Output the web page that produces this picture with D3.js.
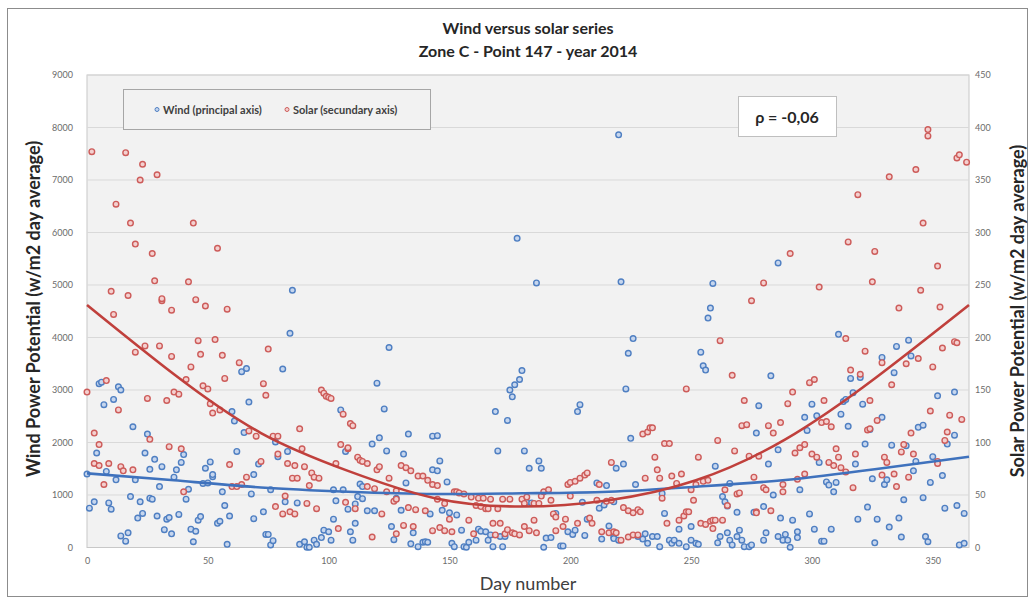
<!DOCTYPE html>
<html>
<head>
<meta charset="utf-8">
<script src="https://cdn.jsdelivr.net/npm/d3@7"></script>
<style>
body { margin: 0; background: #fff; }
text { font-family: Lato, "Open Sans", sans-serif; }
</style>
</head>
<body>
<div id="chart"></div>
<script>
const width = 1033;
const height = 601;

const title = "Wind versus solar series";
const subTitle = "Zone C - Point 147 - year 2014";
const rhoText = "\u03C1 = -0,06";

const dayTicks = [0, 50, 100, 150, 200, 250, 300, 350];
const windTicks = [0, 1000, 2000, 3000, 4000, 5000, 6000, 7000, 8000, 9000];
const solarTicks = [0, 50, 100, 150, 200, 250, 300, 350, 400, 450];

// [day, w/m2]
const wind = [
 [0,1400],[1,750],[3,870],[4,1800],[5,3120],[6,3150],[7,2720],[8,1450],[9,850],[10,730],[11,2820],[12,1290],[13,3060],[14,3000],[14,220],[16,120],[17,280],[18,970],[19,2300],[20,1290],[21,560],[22,870],[23,650],[24,1800],[25,2160],[26,1490],[26,940],[27,920],[28,1680],[29,600],[30,1160],[31,1540],[32,340],[33,540],[34,570],[35,260],[36,1340],[37,1480],[38,630],[39,1620],[40,1770],[41,920],[42,1110],[43,350],[44,110],[45,310],[46,520],[47,590],[48,1220],[49,1510],[50,1230],[51,1630],[52,1350],[52,1390],[54,460],[55,500],[56,1060],[57,800],[58,60],[59,600],[60,2590],[61,2410],[62,1830],[64,3350],[65,2190],[66,3410],[67,2770],[68,1020],[69,550],[69,1390],[71,1590],
 [73,680],[74,250],[75,250],[76,1100],[76,50],[77,130],[78,2010],[79,1730],[81,3400],[82,870],[83,1830],[84,4080],[85,4900],[87,850],[88,60],[90,110],[91,5],[92,5],[94,140],[95,60],[97,190],[98,330],[100,300],[101,140],[102,1100],[102,540],[103,890],[105,2620],[106,1100],[107,1830],[108,730],[109,300],[110,140],[111,830],[111,460],[112,970],[113,1210],[114,1160],[114,930],[116,700],[118,1970],[119,700],[120,3130],[121,2090],[123,2640],[124,1840],[125,3810],[126,400],[127,150],[128,940],[130,710],[131,1780],[132,1230],[133,2160],[134,70],[135,280],[137,15],[139,100],[140,110],[141,100],[142,640],[143,2120],[143,1480],
 [145,2130],[145,1460],[146,1650],[147,710],[149,1250],[150,660],[151,80],[152,15],[153,620],[155,330],[156,15],[157,5],[158,100],[161,140],[162,350],[163,310],[165,300],[166,140],[167,240],[168,15],[169,2590],[170,1840],[171,210],[172,15],[173,210],[174,2420],[175,3000],[176,2870],[177,3100],[178,5890],[179,3200],[180,3370],[181,1840],[182,860],[183,1510],[184,850],[186,5040],[187,1650],[188,1510],[189,5],[190,180],[192,190],[194,650],[196,30],[197,30],[199,300],[201,250],[202,330],[203,2590],[204,2720],[205,860],[206,230],[207,540],[211,1230],[212,750],[213,160],[214,810],[215,1180],[216,410],
 [218,870],[218,200],[218,170],[219,1510],[220,7860],[220,140],[221,5060],[222,1590],[223,3020],[224,3700],[225,2080],[226,3980],[227,1200],[228,210],[230,160],[231,260],[232,80],[234,210],[236,210],[237,15],[238,1030],[239,650],[241,140],[242,80],[243,140],[245,350],[245,80],[248,15],[250,140],[250,400],[252,80],[253,60],[254,3720],[255,3460],[256,3380],[257,4370],[258,4560],[259,5030],[260,1550],[261,90],[262,210],[263,970],[264,870],[265,790],[265,280],[266,1220],[266,140],[267,50],[269,670],[269,210],[270,330],[271,140],[272,15],[274,15],[275,50],[276,670],[277,2180],[278,2700],[280,780],[280,140],[281,280],[282,1590],[283,3270],[284,1000],[286,5420],[286,1860],[286,210],[287,560],[288,140],
 [289,250],[290,140],[291,5],[292,520],[294,190],[294,300],[295,1100],[297,2480],[298,2230],[299,640],[300,2730],[301,350],[302,2510],[303,1620],[304,120],[305,120],[306,1250],[307,1190],[308,350],[309,1060],[310,1240],[311,4060],[312,2540],[313,2780],[314,2820],[315,2310],[316,3220],[317,2950],[318,1590],[319,540],[320,3240],[321,2730],[322,1970],[323,770],[324,2250],[325,1310],[326,90],[327,540],[329,3620],[329,2480],[330,1200],[331,1290],[332,390],[333,1950],[334,3330],[335,3830],[336,560],[337,200],[338,910],[339,1940],[340,3950],[341,3650],[342,1460],[343,1640],[344,2290],[346,2330],[346,950],[347,210],[348,110],[349,1240],[350,1730],[352,2890],[354,1370],[355,750],[356,1970],[359,2960],[359,2140],[360,800],[361,50],[363,650],[363,80]
];

const solar = [
 [0,148],[2,377],[3,109],[3,80],[5,78],[5,98],[7,60],[8,159],[9,80],[10,244],[11,222],[12,327],[13,131],[14,77],[15,73],[16,376],[17,240],[18,309],[19,74],[20,186],[20,289],[22,350],[23,365],[24,192],[25,142],[26,103],[27,280],[28,254],[29,355],[30,192],[31,235],[31,237],[33,140],[34,96],[35,182],[35,226],[36,148],[38,146],[39,94],[40,53],[41,160],[42,253],[43,172],[44,309],[45,236],[46,197],[47,184],[48,154],[49,230],[50,151],[51,137],[52,128],[53,198],[54,285],[55,131],[56,183],[57,161],[58,227],[59,79],[60,58],[62,58],[63,176],[64,60],[66,67],[67,111],[70,106],
 [72,82],[73,156],[74,145],[75,189],[77,106],[78,39],[79,106],[79,89],[81,32],[82,49],[83,80],[84,34],[85,66],[86,78],[86,32],[87,66],[88,113],[89,94],[90,77],[91,42],[92,59],[93,71],[94,67],[95,37],[96,66],[97,150],[98,147],[99,144],[100,143],[101,142],[103,80],[104,18],[105,98],[106,127],[107,43],[108,94],[108,95],[109,118],[110,116],[111,37],[112,86],[113,83],[114,82],[116,80],[116,58],[118,10],[119,56],[120,74],[121,77],[122,32],[124,53],[125,66],[127,44],[128,13],[128,46],[128,54],[130,78],[131,21],[132,76],[133,38],[134,73],[135,20],[136,36],[137,68],[139,68],[140,35],[141,64],[143,60],[143,16],
 [145,59],[145,46],[146,19],[148,16],[148,42],[150,27],[151,15],[152,53],[153,53],[154,52],[156,51],[158,26],[159,48],[160,13],[161,40],[162,47],[163,39],[164,47],[165,37],[166,37],[167,46],[168,23],[169,12],[170,37],[171,23],[172,46],[173,13],[174,17],[175,46],[176,14],[177,13],[179,12],[180,46],[181,20],[181,42],[182,48],[183,16],[185,42],[185,26],[186,14],[187,42],[188,49],[189,53],[191,55],[192,45],[193,32],[194,29],[194,16],[197,20],[198,27],[199,60],[200,62],[200,49],[202,63],[203,23],[204,66],[206,69],[207,71],[208,28],[209,23],[211,45],[212,60],[213,15],[215,44],[216,14],[217,81],
 [217,45],[218,15],[219,14],[221,7],[222,38],[224,35],[224,10],[226,33],[226,12],[228,36],[228,12],[229,34],[230,108],[231,66],[232,110],[233,114],[234,114],[235,86],[236,74],[237,66],[238,47],[239,99],[240,23],[241,99],[242,68],[244,61],[245,26],[246,70],[247,30],[248,34],[248,151],[249,34],[250,55],[251,45],[252,60],[253,86],[254,23],[255,63],[256,22],[257,64],[258,25],[259,26],[259,18],[260,26],[261,102],[262,197],[263,26],[264,55],[265,40],[267,164],[268,92],[269,51],[270,52],[271,116],[272,140],[273,117],[274,87],[275,235],[276,67],[277,34],[277,33],[278,87],[280,57],[280,252],[281,55],[282,116],[283,35],[284,109],[287,119],[288,60],[288,53],
 [290,137],[291,280],[292,148],[293,90],[294,65],[295,95],[297,98],[297,70],[299,157],[300,89],[301,160],[302,86],[303,248],[304,119],[305,140],[306,120],[307,81],[308,115],[309,78],[310,94],[311,86],[312,76],[314,72],[314,199],[315,291],[316,169],[317,57],[318,89],[319,336],[320,165],[322,187],[323,112],[324,140],[324,113],[325,253],[326,282],[327,121],[329,176],[329,69],[330,86],[331,81],[332,353],[333,155],[334,70],[335,58],[336,228],[337,91],[338,98],[339,175],[340,67],[341,109],[342,89],[343,360],[344,180],[345,245],[346,309],[348,392],[348,398],[349,130],[350,172],[352,82],[352,80],[352,268],[353,229],[354,190],[355,102],[356,110],[357,126],[359,196],[360,195],[360,371],[361,374],[362,122],[364,367]
];

// trend curves
const windTrend = [[0,1413],[36,1280],[72,1143],[108,1063],[144,1019],[180,1032],[216,1063],[252,1158],[289,1286],[326,1490],[365,1730]];
const solarTrend = [[0,231],[36,165],[72,109],[108,73],[144,47],[180,39],[216,45],[252,64],[289,103],[326,161],[365,231]];

const plot = {left: 87, right: 969, top: 75, bottom: 547.5};

const svg = d3.select("#chart").append("svg")
   .attr("width", width)
   .attr("height", height);

// chart frame
svg.append("rect")
   .attr("x", 7.5).attr("y", 8.5)
   .attr("width", 1020).attr("height", 588)
   .attr("fill", "#fff")
   .attr("stroke", "#8c8c8c");

const x = d3.scaleLinear().domain([0, 365]).range([plot.left, plot.right]);
const yWind = d3.scaleLinear().domain([0, 9000]).range([plot.bottom, plot.top]);
const ySolar = d3.scaleLinear().domain([0, 450]).range([plot.bottom, plot.top]);

svg.append("rect")
   .attr("x", plot.left).attr("y", plot.top)
   .attr("width", plot.right - plot.left)
   .attr("height", plot.bottom - plot.top)
   .attr("fill", "#f2f2f2")
   .attr("stroke", "#c8c8c8");

svg.append("g")
   .selectAll("line")
   .data(windTicks.slice(1))
   .join("line")
   .attr("x1", plot.left).attr("x2", plot.right)
   .attr("y1", d => yWind(d)).attr("y2", d => yWind(d))
   .attr("stroke", "#d9d9d9")
   .attr("stroke-width", 1);

function styleAxis(g) {
   g.select(".domain").remove();
   g.selectAll("text")
      .style("font-size", "9px")
      .style("fill", "#6b6b6b")
      .style("font-family", "Lato, sans-serif");
}

svg.append("g")
   .attr("transform", `translate(${plot.left},0)`)
   .call(d3.axisLeft(yWind).tickValues(windTicks).tickSize(0).tickPadding(14).tickFormat(d3.format("d")))
   .call(styleAxis);

svg.append("g")
   .attr("transform", `translate(${plot.right},0)`)
   .call(d3.axisRight(ySolar).tickValues(solarTicks).tickSize(0).tickPadding(6).tickFormat(d3.format("d")))
   .call(styleAxis);

svg.append("g")
   .attr("transform", `translate(0,${plot.bottom})`)
   .call(d3.axisBottom(x).tickValues(dayTicks).tickSize(0).tickPadding(10).tickFormat(d3.format("d")))
   .call(styleAxis);

// points
svg.append("g")
   .selectAll("circle")
   .data(wind)
   .join("circle")
   .attr("cx", d => x(d[0]))
   .attr("cy", d => yWind(d[1]))
   .attr("r", 2.8)
   .attr("fill", "#c6d6ee")
   .attr("stroke", "#4f7fc2")
   .attr("stroke-width", 1.4);

svg.append("g")
   .selectAll("circle")
   .data(solar)
   .join("circle")
   .attr("cx", d => x(d[0]))
   .attr("cy", d => ySolar(d[1]))
   .attr("r", 2.8)
   .attr("fill", "#f4d0cf")
   .attr("stroke", "#cd5c5a")
   .attr("stroke-width", 1.4);

// trend lines
svg.append("path")
   .datum(windTrend)
   .attr("fill", "none")
   .attr("stroke", "#3f72bd")
   .attr("stroke-width", 2.6)
   .attr("d", d3.line().x(d => x(d[0])).y(d => yWind(d[1])).curve(d3.curveNatural));

svg.append("path")
   .datum(solarTrend)
   .attr("fill", "none")
   .attr("stroke", "#c0403c")
   .attr("stroke-width", 2.6)
   .attr("d", d3.line().x(d => x(d[0])).y(d => ySolar(d[1])).curve(d3.curveNatural));

// titles
svg.append("text")
   .attr("x", 528).attr("y", 34)
   .attr("text-anchor", "middle")
   .style("font-size", "16px").style("font-weight", "bold").style("fill", "#262626")
   .text(title);

svg.append("text")
   .attr("x", 528).attr("y", 57)
   .attr("text-anchor", "middle")
   .style("font-size", "16px").style("font-weight", "bold").style("fill", "#262626")
   .text(subTitle);

svg.append("text")
   .attr("x", 528).attr("y", 590)
   .attr("text-anchor", "middle")
   .style("font-size", "18px").style("fill", "#404040")
   .text("Day number");

svg.append("text")
   .attr("transform", "translate(40,309) rotate(-90)")
   .attr("text-anchor", "middle")
   .style("font-size", "18px").style("font-weight", "bold").style("fill", "#262626")
   .text("Wind Power Potential (w/m2 day average)");

svg.append("text")
   .attr("transform", "translate(1024,311) rotate(-90)")
   .attr("text-anchor", "middle")
   .style("font-size", "18px").style("font-weight", "bold").style("fill", "#262626")
   .text("Solar Power Potential (w/m2 day average)");

// legend
const legend = svg.append("g");
legend.append("rect")
   .attr("x", 123.5).attr("y", 89.5)
   .attr("width", 307).attr("height", 40)
   .attr("fill", "#f2f2f2")
   .attr("stroke", "#a6a6a6");

const legendItems = [
   {label: "Wind (principal axis)", x: 157, fill: "#c6d6ee", stroke: "#4f7fc2"},
   {label: "Solar (secundary axis)", x: 287, fill: "#f4d0cf", stroke: "#cd5c5a"}
];

legendItems.forEach(d => {
   legend.append("circle")
      .attr("cx", d.x).attr("cy", 109.5).attr("r", 2)
      .attr("fill", d.fill).attr("stroke", d.stroke).attr("stroke-width", 1);
   legend.append("text")
      .attr("x", d.x + 6).attr("y", 113.5)
      .style("font-size", "11px").style("font-weight", "bold").style("fill", "#404040")
      .text(d.label);
});

// correlation box
svg.append("rect")
   .attr("x", 738.5).attr("y", 96.5)
   .attr("width", 98).attr("height", 40)
   .attr("fill", "#fff")
   .attr("stroke", "#bfbfbf");

svg.append("text")
   .attr("x", 787).attr("y", 123)
   .attr("text-anchor", "middle")
   .style("font-size", "16px").style("font-weight", "bold").style("fill", "#262626")
   .text(rhoText);
</script>
</body>
</html>
